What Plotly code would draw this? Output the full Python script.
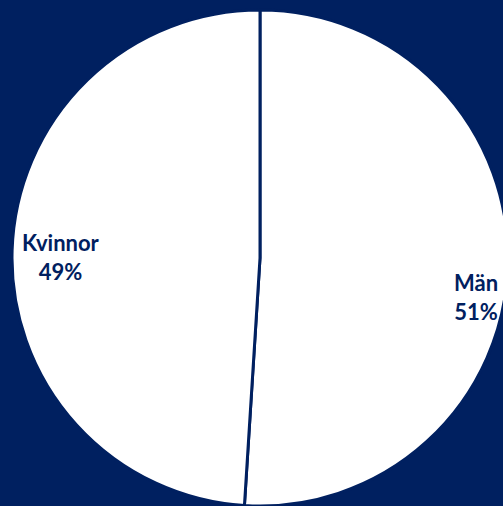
import plotly.graph_objects as go

NAVY = "#002060"

labels = ["Män", "Kvinnor"]
shares = [51, 49]

# the pie runs a few px past the right edge of the window, as in the source
FIG_W, FIG_H = 512, 506

# where the data labels sit (paper coords), Excel-style "best fit"
label_pos = {"Män": (476 / FIG_W, 1 - 297 / FIG_H), "Kvinnor": (61 / FIG_W, 1 - 257 / FIG_H)}

fig = go.Figure(go.Pie(
    labels=labels,
    values=shares,
    sort=False,
    direction="clockwise",
    rotation=0,
    marker=dict(colors=["white", "white"], line=dict(color=NAVY, width=3)),
    textinfo="none",
    hoverinfo="label+percent",
    domain=dict(x=[12 / FIG_W, 508 / FIG_W], y=[0.0, 496 / FIG_H]),
    showlegend=False,
))

for lab, val in zip(labels, shares):
    x, y = label_pos[lab]
    fig.add_annotation(
        x=x, y=y, xref="paper", yref="paper",
        xanchor="center", yanchor="middle",
        text=f"<b>{lab}<br>{val}%</b>",
        showarrow=False, align="center",
        font=dict(family="Lato", size=22, color=NAVY),
    )

fig.update_layout(
    width=FIG_W, height=FIG_H,
    paper_bgcolor=NAVY,
    plot_bgcolor=NAVY,
    margin=dict(l=0, r=0, t=0, b=0),
)

# drop the browser's default body margin and crop the overflow
fig.write_html(
    "out.html",
    config={"displayModeBar": False},
    post_script="document.body.style.margin='0';document.body.style.overflow='hidden';",
)
